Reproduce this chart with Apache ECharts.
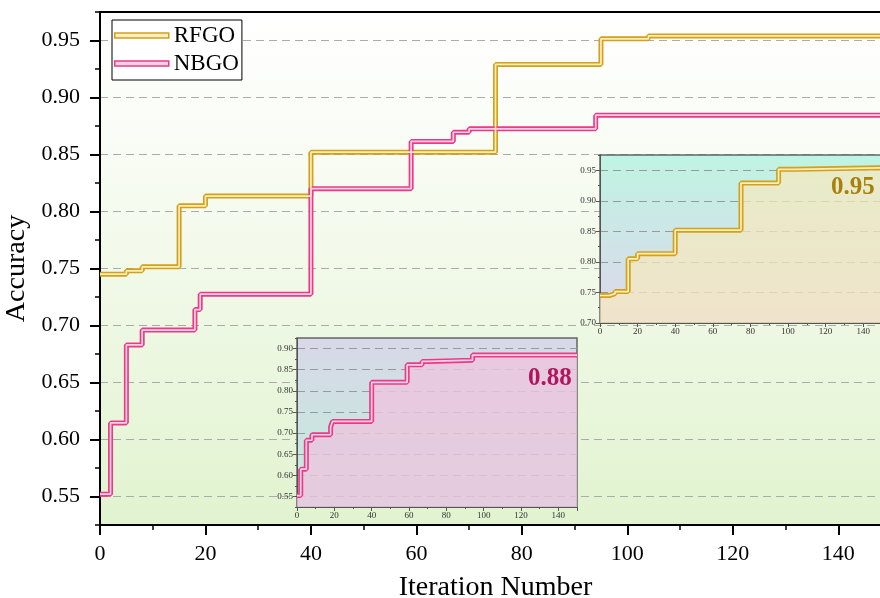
<!DOCTYPE html>
<html>
<head>
<meta charset="utf-8">
<script src="https://cdn.jsdelivr.net/npm/echarts@6/dist/echarts.min.js"></script>
<style>
  html, body { margin: 0; padding: 0; background: #fff; }
  #chart { width: 880px; height: 598px; }
</style>
</head>
<body>
<div id="chart"></div>
<script>
// step change points
var rfgoIter = [0, 5, 8, 15, 20, 40, 75, 95, 104, 150];
var rfgoAcc = [0.745, 0.748, 0.7515, 0.805, 0.8135, 0.852, 0.929, 0.9515, 0.954, 0.954];
var nbgoIter = [0, 2, 5, 8, 18, 19, 40, 59, 67, 70, 94, 150];
var nbgoAcc = [0.552, 0.6145, 0.683, 0.696, 0.714, 0.7275, 0.82, 0.8615, 0.8695, 0.8725, 0.8845, 0.8845];

var mainYTicks = [0.55, 0.60, 0.65, 0.70, 0.75, 0.80, 0.85, 0.90, 0.95];
var rfgoYTicks = [0.70, 0.75, 0.80, 0.85, 0.90, 0.95];
var nbgoYTicks = [0.55, 0.60, 0.65, 0.70, 0.75, 0.80, 0.85, 0.90];

var GOLD = '#d4a017', GOLD_IN = '#fbeec0';
var PINK = '#ea3a88', PINK_IN = '#fbd2e4';
var SERIF = 'Liberation Serif';

function pairs(xs, ys) {
  return xs.map(function (x, i) { return [x, ys[i]]; });
}

// each curve is drawn twice: a wide coloured stroke and a thin light one on top
function doubleLine(name, data, xi, yi, color, inner, w, z, area) {
  var outer = {
    name: name, type: 'line', step: 'end', data: data,
    xAxisIndex: xi, yAxisIndex: yi, symbol: 'none', z: z,
    lineStyle: { color: color, width: w }, itemStyle: { color: color }
  };
  if (area) outer.areaStyle = { color: area, origin: 'start', opacity: 1 };
  var inn = {
    type: 'line', step: 'end', data: data, silent: true,
    xAxisIndex: xi, yAxisIndex: yi, symbol: 'none', z: z + 1,
    lineStyle: { color: inner, width: w * 0.34 }
  };
  return [outer, inn];
}

function xAxisOf(grid, big, z) {
  return {
    type: 'value', gridIndex: grid, min: 0, max: 150, interval: 20, z: z,
    axisLine: { lineStyle: { color: big ? '#000' : '#555', width: big ? 2 : 1 } },
    axisTick: { inside: false, length: big ? 10 : 4, lineStyle: { color: big ? '#000' : '#555', width: big ? 2 : 1 } },
    minorTick: { show: true, splitNumber: 2, length: big ? 5 : 2, lineStyle: { color: big ? '#000' : '#555', width: big ? 1.5 : 1 } },
    axisLabel: {
      showMaxLabel: false, fontFamily: SERIF, color: big ? '#000' : '#333',
      fontSize: big ? 22 : 9, margin: big ? 18 : 4
    },
    splitLine: { show: false }
  };
}

function yAxesOf(grid, min, max, ticks, big, z) {
  var c = big ? '#000' : '#555';
  return [{
    type: 'value', gridIndex: grid, position: 'left', min: min, max: max, z: z,
    axisLine: { show: true, lineStyle: { color: c, width: big ? 2 : 1 } },
    axisTick: { show: true, customValues: ticks, length: big ? 10 : 4, lineStyle: { color: c, width: big ? 2 : 1 } },
    axisLabel: {
      customValues: ticks, fontFamily: SERIF, color: big ? '#000' : '#333',
      fontSize: big ? 22 : 9, margin: big ? 20 : 4,
      formatter: function (v) { return v.toFixed(2); }
    },
    splitLine: { show: true, lineStyle: { color: big ? '#ababab' : '#9a9a9a', type: [8, 5], width: 1 } }
  }, {
    type: 'value', gridIndex: grid, position: 'left', offset: 0, min: min, max: max, interval: 0.025, z: z,
    axisLine: { show: false },
    axisTick: { show: true, length: big ? 5 : 2, lineStyle: { color: c, width: big ? 1.5 : 1 } },
    axisLabel: { show: false },
    splitLine: { show: false }
  }];
}

var chart = echarts.init(document.getElementById('chart'));

var mainY = yAxesOf(0, 0.525, 0.975, mainYTicks, true, 1);
mainY[0].name = 'Accuracy';
mainY[0].nameLocation = 'middle';
mainY[0].nameGap = 56;
mainY[0].nameTextStyle = { fontFamily: SERIF, fontSize: 28, color: '#000' };

var mainX = xAxisOf(0, true, 1);
mainX.name = 'Iteration Number';
mainX.nameLocation = 'middle';
mainX.nameGap = 49;
mainX.nameTextStyle = { fontFamily: SERIF, fontSize: 28, color: '#000' };

var series = []
  .concat(doubleLine('RFGO', pairs(rfgoIter, rfgoAcc), 0, 0, GOLD, GOLD_IN, 5, 2))
  .concat(doubleLine('NBGO', pairs(nbgoIter, nbgoAcc), 0, 0, PINK, PINK_IN, 5, 2))
  .concat(doubleLine('RFGO', pairs(rfgoIter, rfgoAcc), 1, 2, GOLD, GOLD_IN, 5, 12, 'rgba(247,233,190,0.72)'))
  .concat(doubleLine('NBGO', pairs(nbgoIter, nbgoAcc), 2, 4, PINK, PINK_IN, 5, 12, 'rgba(236,196,222,0.8)'));

chart.setOption({
  animation: false,
  backgroundColor: '#fff',
  grid: [{
    left: 100, right: -11, top: 12, bottom: 73, outerBoundsMode: 'none', containLabel: false,
    show: true, borderColor: '#000', borderWidth: 2,
    backgroundColor: {
      type: 'linear', x: 0, y: 0, x2: 0, y2: 1,
      colorStops: [{ offset: 0, color: '#ffffff' }, { offset: 0.2, color: '#fbfdf8' }, { offset: 1, color: '#e1f3cf' }]
    }
  }, {
    left: 600, right: -2, top: 155, bottom: 275, z: 10, outerBoundsMode: 'none', containLabel: false,
    show: true, borderColor: '#666', borderWidth: 1.5,
    backgroundColor: {
      type: 'linear', x: 0, y: 0, x2: 0, y2: 1,
      colorStops: [{ offset: 0, color: '#bff4e2' }, { offset: 1, color: '#ddd6ec' }]
    }
  }, {
    left: 297, right: 303, top: 338, bottom: 91, z: 10, outerBoundsMode: 'none', containLabel: false,
    show: true, borderColor: '#666', borderWidth: 1.5,
    backgroundColor: {
      type: 'linear', x: 0, y: 0, x2: 0, y2: 1,
      colorStops: [{ offset: 0, color: '#d8d8e8' }, { offset: 1, color: '#c0eedb' }]
    }
  }],
  xAxis: [mainX, xAxisOf(1, false, 11), xAxisOf(2, false, 11)],
  yAxis: mainY
    .concat(yAxesOf(1, 0.70, 0.975, rfgoYTicks, false, 11))
    .concat(yAxesOf(2, 0.525, 0.925, nbgoYTicks, false, 11)),
  legend: {
    data: [
      { name: 'RFGO', icon: 'rect', itemStyle: { color: GOLD_IN, borderColor: GOLD, borderWidth: 1.5 } },
      { name: 'NBGO', icon: 'rect', itemStyle: { color: PINK_IN, borderColor: PINK, borderWidth: 1.5 } }
    ],
    orient: 'vertical', left: 112, top: 20,
    itemWidth: 54, itemHeight: 5, itemGap: 5,
    padding: [4, 3, 5, 2],
    backgroundColor: '#fff', borderColor: '#000', borderWidth: 1, borderRadius: 0,
    textStyle: { fontFamily: SERIF, fontSize: 23, color: '#000', padding: [0, 0, 0, 0] },
    selectedMode: false, z: 20
  },
  graphic: [
    { type: 'text', left: 831, top: 175, z: 30,
      style: { text: '0.95', fontFamily: SERIF, fontWeight: 'bold', fontSize: 25, fill: '#a8800c' } },
    { type: 'text', left: 528, top: 366, z: 30,
      style: { text: '0.88', fontFamily: SERIF, fontWeight: 'bold', fontSize: 25, fill: '#b0155e' } }
  ],
  series: series
});
</script>
</body>
</html>
